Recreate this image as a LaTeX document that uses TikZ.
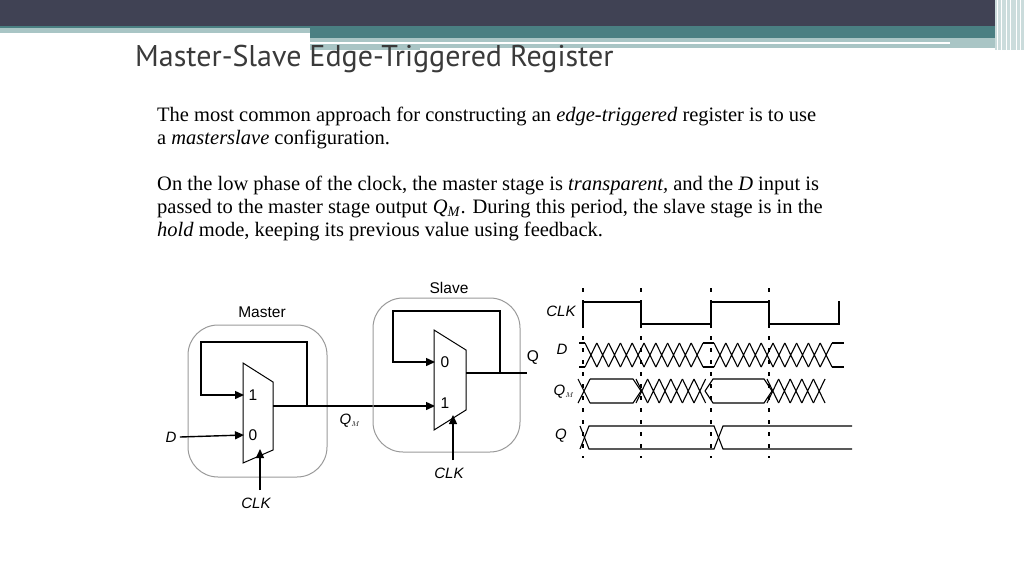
\documentclass[tikz,border=0pt]{standalone}
\usepackage{fontspec}
\setmainfont{Liberation Serif}
\setsansfont{Liberation Sans}
\newfontfamily\titlefont{PT Sans}
\usetikzlibrary{arrows.meta}
\definecolor{hdark}{HTML}{404254}
\definecolor{hteal}{HTML}{4A7F82}
\definecolor{hlight}{HTML}{A9C5C5}
\definecolor{titlec}{HTML}{3A3A3A}
\begin{document}
\begin{tikzpicture}[x=1pt,y=1pt,
  wire/.style={line width=1.4pt},
  arr/.style={line width=1.4pt,-{Triangle[length=9pt,width=8pt]}},
  grp/.style={draw=gray!80,line width=1pt,rounded corners=30pt},
  mux/.style={draw,line width=1pt,fill=white},
  lab/.style={font=\sffamily\fontsize{15.5}{17}\selectfont},
  ilab/.style={font=\sffamily\itshape\fontsize{15}{17}\selectfont},
  body/.style={anchor=base west,font=\fontsize{20.5}{24}\selectfont,inner sep=0},
  sig/.style={line width=1.1pt},
  tick/.style={line width=1.4pt,dash pattern=on 4pt off 8pt}]
\useasboundingbox (0,0) rectangle (1024,-576);
% header
\fill[hdark] (0,0) rectangle (1024,-26);
\fill[hteal] (0,-26) rectangle (1024,-33);
\fill[hteal] (310,-33) rectangle (1024,-38);
\fill[hlight] (0,-28) rectangle (310,-33);
\fill[hlight] (310,-38) rectangle (1000,-50);
\fill[white] (310,-42) rectangle (950,-44);
\fill[white] (420,-48) rectangle (1000,-50);
\fill[hlight!60] (995,0) rectangle (1024,-50);
\foreach \x in {997,1001,1006,1010,1016,1020}{\draw[white,line width=0.8pt] (\x,0) -- (\x,-50);}
\node[anchor=base west,inner sep=0,text=titlec,font=\titlefont\fontsize{30}{34}\selectfont] (title) at (135,-66) {Master-Slave Edge-Triggered Register};
% body
\node[body] (l1) at (157,-121) {The most common approach for constructing an \textit{edge-triggered} register is to use};
\node[body] (l2) at (157,-144) {a \textit{masterslave} configuration.};
\node[body] (l3) at (157,-190) {On the low phase of the clock, the master stage is \textit{transparent,} and the \textit{D} input is};
\node[body] (l4) at (157,-213) {passed to the master stage output \textit{Q}\textsubscript{\textit{M}}. During this period, the slave stage is in the};
\node[body] (l5) at (157,-236) {\textit{hold} mode, keeping its previous value using feedback.};
% master
\draw[grp] (188,-325) rectangle (327,-477);
\node[lab] (mlab) at (262,-312) {Master};
\draw[mux] (243,-363) -- (273,-382) -- (273,-450) -- (243,-463) -- cycle;
\node[lab] (m1) at (253,-395) {1};
\node[lab] (m0) at (253,-435) {0};
\coordinate (mj) at (307,-406);
\node[ilab] (D) at (171,-437) {D};
\draw[wire] (273,-406) -- (mj);
\draw[arr] (mj) -- (307,-342) -- (201,-342) -- (201,-395) -- (244,-395);
\draw[arr] (D.east) -- (244,-435);
\node[ilab] (mclk) at (256,-503) {CLK};
\draw[arr] (260,-490) -- (260,-449);
% link
\draw[arr] (mj) -- (435,-406);
\node[ilab] (qm) at (350,-421) {Q$_{\scriptscriptstyle M}$};
% slave
\draw[grp] (373,-298) rectangle (520,-452);
\node[lab] (slab) at (449,-288) {Slave};
\draw[mux] (434,-330) -- (466,-350) -- (466,-410) -- (434,-430) -- cycle;
\node[lab] (s0) at (445,-362) {0};
\node[lab] (s1) at (445,-403) {1};
\coordinate (sj) at (500,-373);
\draw[wire] (466,-373) -- (527,-373);
\node[lab] (Q) at (533,-358) {Q};
\draw[arr] (sj) -- (500,-311) -- (393,-311) -- (393,-362) -- (435,-362);
\node[ilab] (sclk) at (449,-473) {CLK};
\draw[arr] (453,-460) -- (453,-415);
% timing
\foreach \x in {583,641,711,769}{\draw[tick] (\x,-288) -- (\x,-458);}
\node[ilab] (tclk) at (561,-311) {CLK};
\node[ilab] (tD) at (562,-349) {D};
\node[ilab] (tQM) at (564,-392) {Q$_{\scriptscriptstyle M}$};
\node[ilab] (tQ) at (561,-436) {Q};
\draw[line width=1.6pt] (583,-324) -- (583,-302) -- (641,-302) -- (641,-324) -- (711,-324) -- (711,-302) -- (769,-302) -- (769,-324) -- (839,-324) -- (839,-301);
% D bus
\draw[sig] (579,-343) -- (585,-343) (579,-367) -- (585,-367) (703,-343) -- (714,-343) (703,-367) -- (714,-367) (832,-343) -- (844,-343) (832,-367) -- (844,-367);
\foreach \s in {585,714}{\foreach \i in {0,...,9}{
  \draw[sig] (\s+\i*11.8,-343) -- (\s+\i*11.8+11.8,-367) (\s+\i*11.8,-367) -- (\s+\i*11.8+11.8,-343);}}
% QM
\draw[sig] (578,-379) -- (590,-403) (578,-403) -- (590,-379);
\draw[sig] (590,-379) -- (633,-379) -- (641,-391) (590,-403) -- (633,-403) -- (641,-391);
\foreach \i in {0,...,5}{\draw[sig] (636+\i*11.6,-379) -- (636+\i*11.6+11.6,-403) (636+\i*11.6,-403) -- (636+\i*11.6+11.6,-379);}
\draw[sig] (705,-391) -- (713,-379) -- (764,-379) -- (772,-391) (705,-391) -- (713,-403) -- (764,-403) -- (772,-391);
\foreach \i in {0,...,4}{\draw[sig] (767+\i*11.6,-379) -- (767+\i*11.6+11.6,-403) (767+\i*11.6,-403) -- (767+\i*11.6+11.6,-379);}
% Q
\draw[sig] (580,-449) -- (589,-426) -- (714,-426) -- (723,-449) -- (852,-449);
\draw[sig] (580,-426) -- (589,-449) -- (714,-449) -- (723,-426) -- (852,-426);
\end{tikzpicture}
\end{document}
